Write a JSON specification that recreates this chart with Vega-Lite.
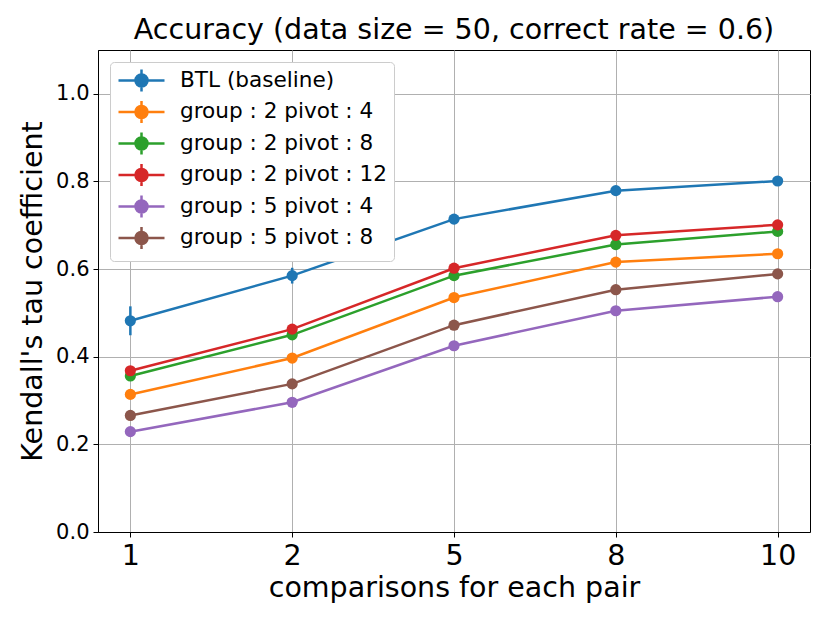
{
  "$schema": "https://vega.github.io/schema/vega-lite/v6.json",
  "autosize": "none",
  "width": 712,
  "height": 482,
  "padding": {"left": 98, "top": 50, "right": 20, "bottom": 91},
  "background": "white",
  "title": {"text": "Accuracy (data size = 50, correct rate = 0.6)", "font": "DejaVu Sans", "fontSize": 28.5, "fontWeight": "normal", "color": "black", "offset": 6},
  "config": {
    "font": "DejaVu Sans",
    "view": {"stroke": "black", "strokeWidth": 1}
  },
  "data": {"values": [
    {"s": "BTL (baseline)", "x": "1", "y": 0.482, "lo": 0.449, "hi": 0.515},
    {"s": "BTL (baseline)", "x": "2", "y": 0.585, "lo": 0.567, "hi": 0.603},
    {"s": "BTL (baseline)", "x": "5", "y": 0.714, "lo": 0.706, "hi": 0.722},
    {"s": "BTL (baseline)", "x": "8", "y": 0.779, "lo": 0.773, "hi": 0.785},
    {"s": "BTL (baseline)", "x": "10", "y": 0.801, "lo": 0.796, "hi": 0.806},
    {"s": "group : 2 pivot : 4", "x": "1", "y": 0.314, "lo": 0.308, "hi": 0.320},
    {"s": "group : 2 pivot : 4", "x": "2", "y": 0.397, "lo": 0.391, "hi": 0.403},
    {"s": "group : 2 pivot : 4", "x": "5", "y": 0.535, "lo": 0.530, "hi": 0.540},
    {"s": "group : 2 pivot : 4", "x": "8", "y": 0.616, "lo": 0.611, "hi": 0.621},
    {"s": "group : 2 pivot : 4", "x": "10", "y": 0.635, "lo": 0.630, "hi": 0.640},
    {"s": "group : 2 pivot : 8", "x": "1", "y": 0.356, "lo": 0.350, "hi": 0.362},
    {"s": "group : 2 pivot : 8", "x": "2", "y": 0.450, "lo": 0.444, "hi": 0.456},
    {"s": "group : 2 pivot : 8", "x": "5", "y": 0.585, "lo": 0.580, "hi": 0.590},
    {"s": "group : 2 pivot : 8", "x": "8", "y": 0.656, "lo": 0.651, "hi": 0.661},
    {"s": "group : 2 pivot : 8", "x": "10", "y": 0.686, "lo": 0.681, "hi": 0.691},
    {"s": "group : 2 pivot : 12", "x": "1", "y": 0.368, "lo": 0.362, "hi": 0.374},
    {"s": "group : 2 pivot : 12", "x": "2", "y": 0.463, "lo": 0.457, "hi": 0.469},
    {"s": "group : 2 pivot : 12", "x": "5", "y": 0.602, "lo": 0.597, "hi": 0.607},
    {"s": "group : 2 pivot : 12", "x": "8", "y": 0.677, "lo": 0.672, "hi": 0.682},
    {"s": "group : 2 pivot : 12", "x": "10", "y": 0.701, "lo": 0.696, "hi": 0.706},
    {"s": "group : 5 pivot : 4", "x": "1", "y": 0.229, "lo": 0.223, "hi": 0.235},
    {"s": "group : 5 pivot : 4", "x": "2", "y": 0.296, "lo": 0.290, "hi": 0.302},
    {"s": "group : 5 pivot : 4", "x": "5", "y": 0.425, "lo": 0.420, "hi": 0.430},
    {"s": "group : 5 pivot : 4", "x": "8", "y": 0.505, "lo": 0.500, "hi": 0.510},
    {"s": "group : 5 pivot : 4", "x": "10", "y": 0.537, "lo": 0.532, "hi": 0.542},
    {"s": "group : 5 pivot : 8", "x": "1", "y": 0.266, "lo": 0.260, "hi": 0.272},
    {"s": "group : 5 pivot : 8", "x": "2", "y": 0.338, "lo": 0.332, "hi": 0.344},
    {"s": "group : 5 pivot : 8", "x": "5", "y": 0.472, "lo": 0.467, "hi": 0.477},
    {"s": "group : 5 pivot : 8", "x": "8", "y": 0.553, "lo": 0.548, "hi": 0.558},
    {"s": "group : 5 pivot : 8", "x": "10", "y": 0.589, "lo": 0.584, "hi": 0.594}
  ]},
  "encoding": {
    "x": {"field": "x", "type": "ordinal", "sort": ["1", "2", "5", "8", "10"],
      "scale": {"type": "point", "padding": 0.2},
      "axis": {"title": "comparisons for each pair", "titleFontSize": 28.5, "titleFontWeight": "normal", "titleColor": "black", "titlePadding": 4,
        "labelFontSize": 28.5, "labelColor": "black", "labelAngle": 0, "labelPadding": 4,
        "grid": true, "gridColor": "#b0b0b0", "gridWidth": 1,
        "domainColor": "black", "tickColor": "black", "tickSize": 5}},
    "color": {"field": "s", "type": "nominal",
      "scale": {"domain": ["BTL (baseline)", "group : 2 pivot : 4", "group : 2 pivot : 8", "group : 2 pivot : 12", "group : 5 pivot : 4", "group : 5 pivot : 8"],
        "range": ["#1f77b4", "#ff7f0e", "#2ca02c", "#d62728", "#9467bd", "#8c564b"]},
      "legend": {"title": null, "orient": "top-left", "offset": 12, "padding": 7,
        "strokeColor": "#cccccc", "fillColor": "white", "cornerRadius": 4,
        "labelFontSize": 21.6, "labelColor": "black", "labelOffset": 40, "labelLimit": 400,
        "symbolType": "M-1,0H3.6M0.7,0A0.6,0.6,0,1,1,1.9,0A0.6,0.6,0,1,1,0.7,0ZM1.3,-1.1V1.1",
        "symbolSize": 400, "symbolStrokeWidth": 2.5, "symbolOpacity": 1,
        "rowPadding": -1.5}}
  },
  "layer": [
    {
      "mark": {"type": "rule", "strokeWidth": 2.5},
      "encoding": {
        "y": {"field": "lo", "type": "quantitative"},
        "y2": {"field": "hi"}
      }
    },
    {
      "mark": {"type": "line", "strokeWidth": 2.5},
      "encoding": {
        "y": {"field": "y", "type": "quantitative"}
      }
    },
    {
      "mark": {"type": "point", "filled": true, "opacity": 1, "size": 125, "shape": "circle"},
      "encoding": {
        "y": {"field": "y", "type": "quantitative",
          "scale": {"domain": [0, 1.1], "nice": false},
          "axis": {"title": "Kendall's tau coefficient", "titleFontSize": 28.5, "titleFontWeight": "normal", "titleColor": "black", "titlePadding": 8,
            "values": [0, 0.2, 0.4, 0.6, 0.8, 1.0], "format": ".1f",
            "labelFontSize": 21, "labelColor": "black", "labelPadding": 4,
            "grid": true, "gridColor": "#b0b0b0", "gridWidth": 1,
            "domainColor": "black", "tickColor": "black", "tickSize": 5}}
      }
    }
  ]
}
